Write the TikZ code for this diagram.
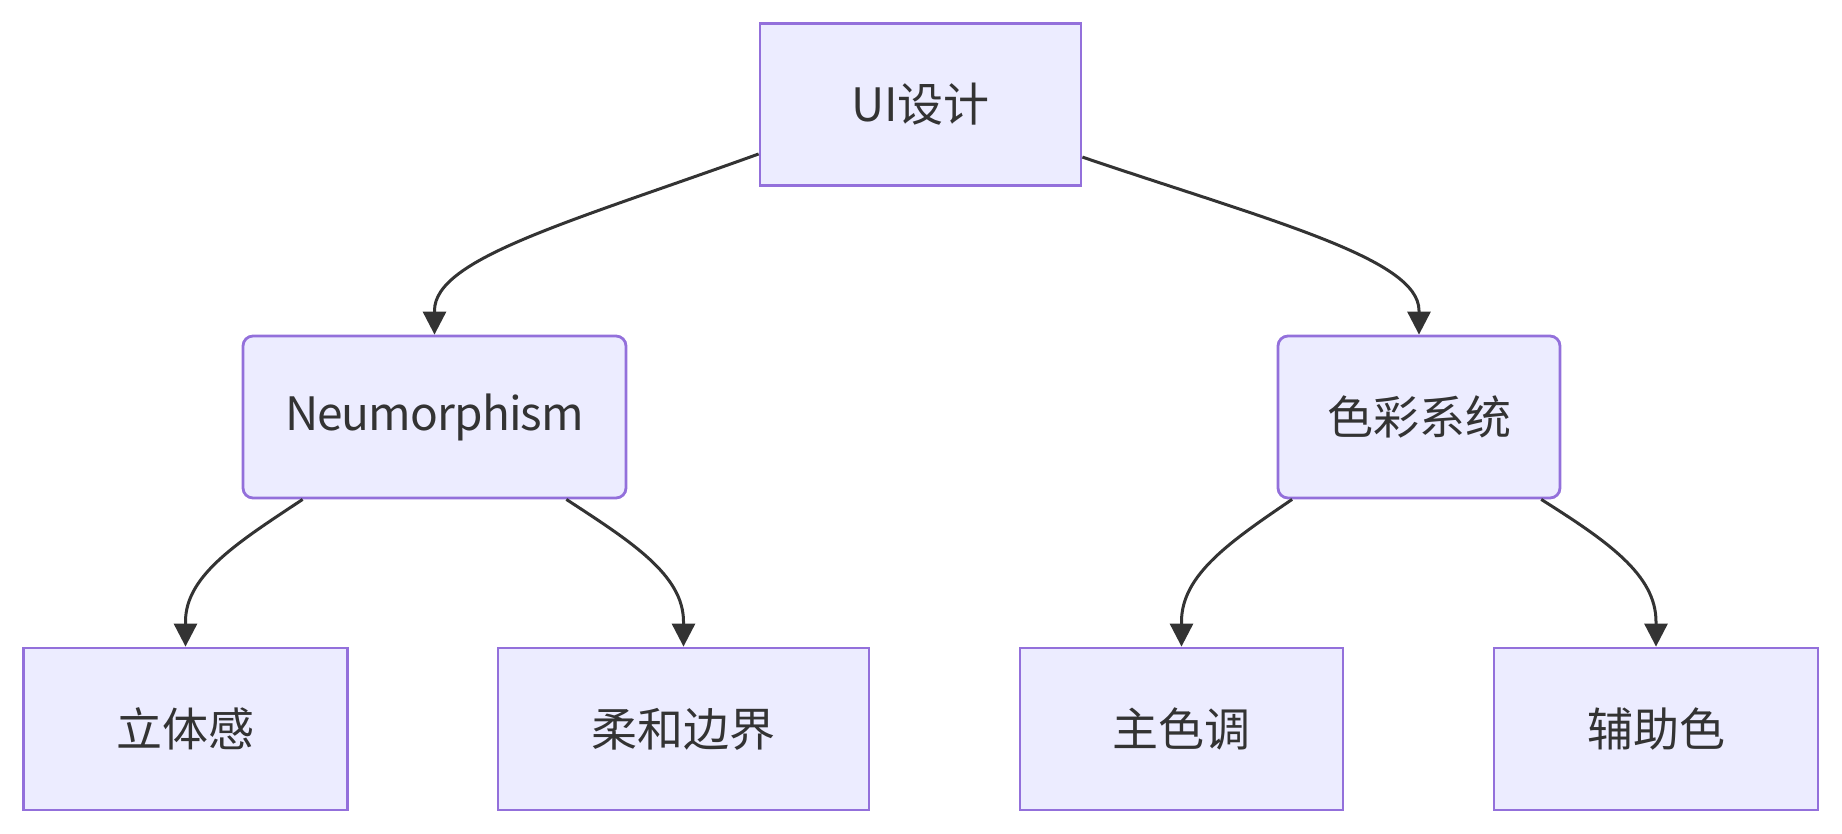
\documentclass[tikz,border=0pt]{standalone}
\usepackage{fontspec}
\setmainfont{Noto Sans CJK SC}
\usetikzlibrary{arrows.meta,calc}
\definecolor{nodefill}{HTML}{ECECFF}
\definecolor{nodeline}{HTML}{9370DB}
\definecolor{ink}{HTML}{333333}
\tikzset{
  box/.style={draw=nodeline, fill=nodefill, line width=2.8pt, inner sep=0pt,
    minimum height=162pt, text=ink, font=\fontsize{46pt}{55pt}\selectfont},
  rbox/.style={box, rounded corners=10pt},
  edge/.style={draw=ink, line width=3pt, -{Triangle[length=23pt,width=23pt]}}
}
\begin{document}
\begin{tikzpicture}[x=1pt,y=-1pt]
\useasboundingbox (0,0) rectangle (1842,834);
\node[box, minimum width=321pt] (ui) at (920.5,104.5) {UI设计};
\node[rbox, minimum width=383pt] (neu) at (434.5,417) {\addfontfeatures{LetterSpace=-2}Neumorphism};
\node[rbox, minimum width=282pt] (col) at (1419,417) {色彩系统};
\node[box, minimum width=324pt] (b1) at (185.5,729) {立体感};
\node[box, minimum width=371pt] (b2) at (683.5,729) {柔和边界};
\node[box, minimum width=323pt] (b3) at (1181.5,729) {主色调};
\node[box, minimum width=324pt] (b4) at (1656,729) {辅助色};

\draw[edge] (ui.197.8) .. controls (570,222) and ($(neu.north)+(0,-76)$) .. ($(neu.north)+(0,-24)$) -- (neu.north);
\draw[edge] (ui.342.5) .. controls (1271,221) and ($(col.north)+(0,-76)$) .. ($(col.north)+(0,-24)$) -- (col.north);

\draw[edge] (neu.212.0) .. controls (240,541) and ($(b1.north)+(0,-72)$) .. ($(b1.north)+(0,-25)$) -- (b1.north);
\draw[edge] (neu.328.2) .. controls (630,541) and ($(b2.north)+(0,-72)$) .. ($(b2.north)+(0,-25)$) -- (b2.north);
\draw[edge] (col.213.4) .. controls (1231,541) and ($(b3.north)+(0,-72)$) .. ($(b3.north)+(0,-25)$) -- (b3.north);
\draw[edge] (col.326.6) .. controls (1607,541) and ($(b4.north)+(0,-72)$) .. ($(b4.north)+(0,-25)$) -- (b4.north);
\end{tikzpicture}
\end{document}
